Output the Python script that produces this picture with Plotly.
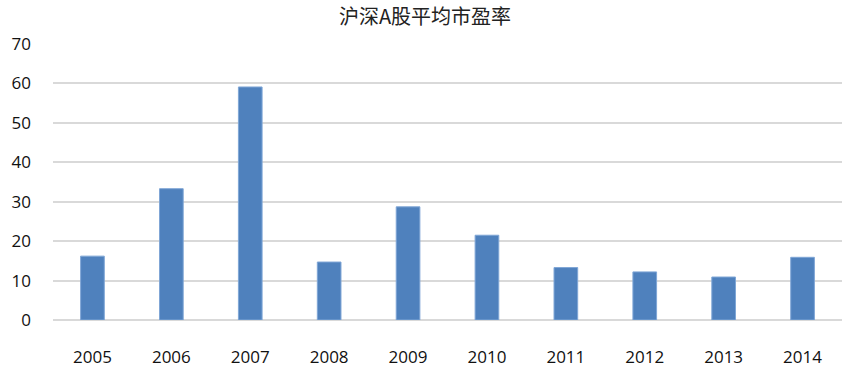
import plotly.graph_objects as go

years = ["2005", "2006", "2007", "2008", "2009", "2010", "2011", "2012", "2013", "2014"]
pe = [16.2, 33.3, 59.1, 14.7, 28.7, 21.5, 13.3, 12.2, 10.9, 15.9]
y_ticks = [0, 10, 20, 30, 40, 50, 60, 70]

fig = go.Figure(go.Bar(
    x=years, y=pe,
    marker=dict(color="#4F81BD", line=dict(color="#7FA6D6", width=1)),
))

fig.update_layout(
    width=850, height=369,
    margin=dict(l=53, r=8, t=44, b=49),
    paper_bgcolor="white", plot_bgcolor="white",
    bargap=0.7,
    showlegend=False,
    title=dict(text="沪深A股平均市盈率", x=0.5, xanchor="center", y=0.955, yanchor="middle",
               font=dict(family="Noto Sans CJK SC, Liberation Sans", size=20, color="#222222")),
    font=dict(family="Open Sans, Liberation Sans", size=17, color="#111111"),
)
fig.update_xaxes(type="category", showgrid=False, showline=False, ticks="", automargin=False,
                 tickfont=dict(size=17), ticklabelstandoff=25)
fig.update_yaxes(range=[0, 70], tickvals=y_ticks, showgrid=True, gridcolor="#D9D9D9", gridwidth=1.5,
                 zeroline=True, zerolinecolor="#D9D9D9", zerolinewidth=1.5, showline=False,
                 automargin=False, tickfont=dict(size=17), ticklabelstandoff=21)

fig.write_html("out.html", config={"displayModeBar": False},
               post_script="document.body.style.margin='0';document.body.style.padding='0';")
